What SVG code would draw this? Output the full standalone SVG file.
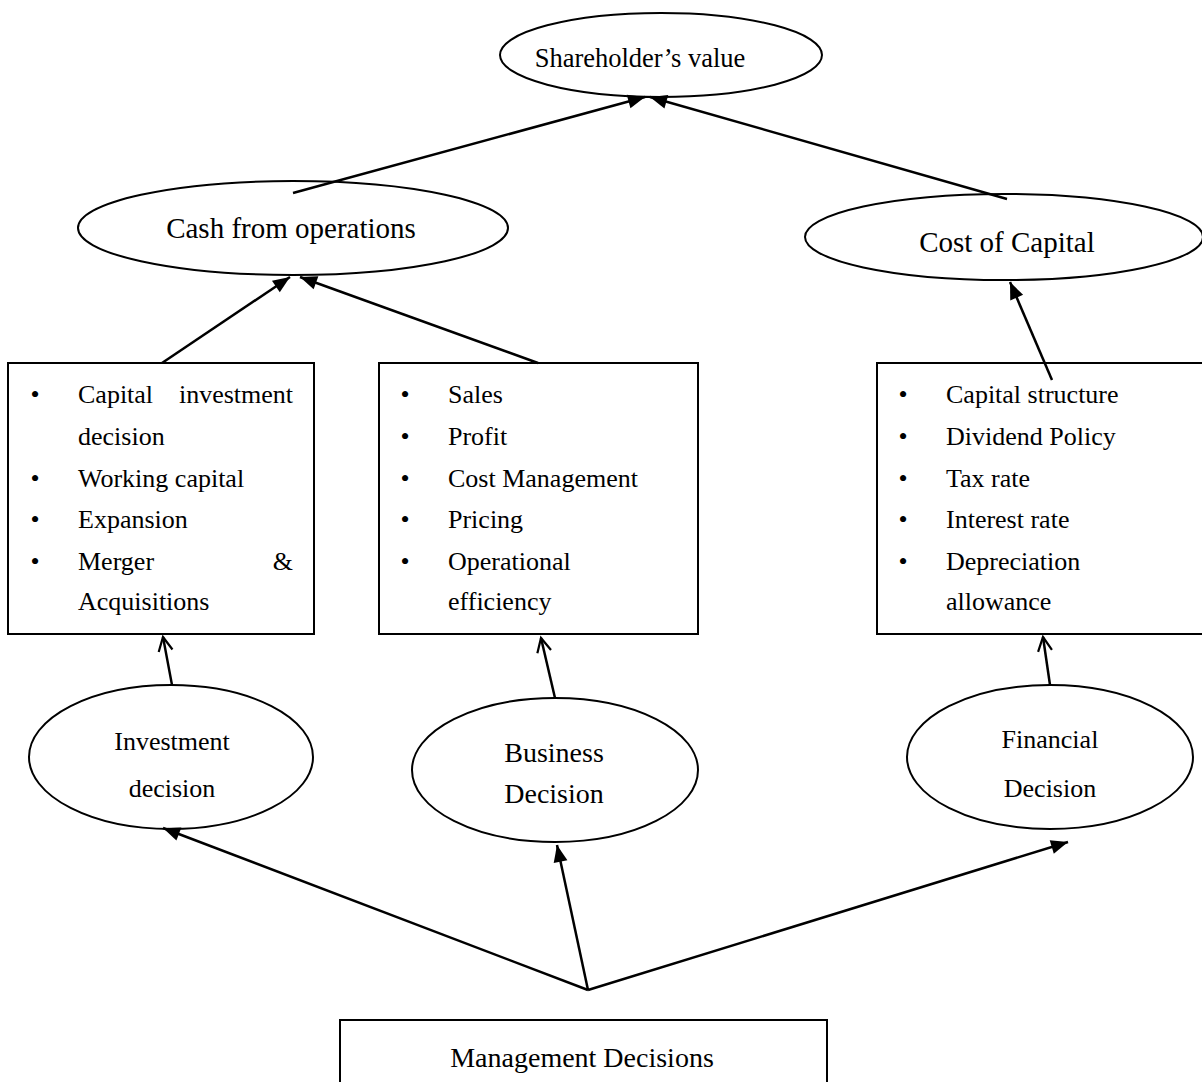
<svg xmlns="http://www.w3.org/2000/svg" width="1202" height="1082" viewBox="0 0 1202 1082">
<style>
  .shape { fill: #fff; stroke: #000; stroke-width: 2; }
  .conn { stroke: #000; stroke-width: 2.5; fill: none; }
  .t { font-family: "Liberation Serif", "Times New Roman", serif; fill: #000; }
  .c { text-anchor: middle; }
  .b { font-size: 26px; }
</style>
<defs>
  <marker id="filled" markerUnits="userSpaceOnUse" markerWidth="18" markerHeight="14" refX="17" refY="7" orient="auto" overflow="visible">
    <path d="M0,0 L17,7 L0,14 z" fill="#000"/>
  </marker>
  <marker id="open" markerUnits="userSpaceOnUse" markerWidth="16" markerHeight="16" refX="14" refY="7" orient="auto" overflow="visible">
    <path d="M0,0 L14,7 L0,14" fill="none" stroke="#000" stroke-width="2.2"/>
  </marker>
</defs>
<rect width="1202" height="1082" fill="#fff"/>

<g id="shareholders-value">
  <ellipse class="shape" cx="661" cy="55" rx="161" ry="42"/>
  <text class="t c" x="640" y="67" font-size="26.5">Shareholder’s value</text>
</g>

<g id="cash-from-operations">
  <ellipse class="shape" cx="293" cy="228" rx="215" ry="47"/>
  <text class="t c" x="291" y="238" font-size="29">Cash from operations</text>
</g>

<g id="cost-of-capital">
  <ellipse class="shape" cx="1004" cy="237" rx="199" ry="43"/>
  <text class="t c" x="1007" y="252" font-size="29">Cost of Capital</text>
</g>

<g id="investment-factors">
  <rect class="shape" x="8" y="363" width="306" height="271"/>
  <text class="t b c" x="35" y="403">•</text>
  <text class="t b" x="78" y="403">Capital</text>
  <text class="t b" x="293" y="403" text-anchor="end">investment</text>
  <text class="t b" x="78" y="445">decision</text>
  <text class="t b c" x="35" y="487">•</text>
  <text class="t b" x="78" y="487">Working capital</text>
  <text class="t b c" x="35" y="528">•</text>
  <text class="t b" x="78" y="528">Expansion</text>
  <text class="t b c" x="35" y="570">•</text>
  <text class="t b" x="78" y="570">Merger</text>
  <text class="t b" x="293" y="570" text-anchor="end">&amp;</text>
  <text class="t b" x="78" y="610">Acquisitions</text>
</g>

<g id="business-factors">
  <rect class="shape" x="379" y="363" width="319" height="271"/>
  <text class="t b c" x="405" y="403">•</text>
  <text class="t b" x="448" y="403">Sales</text>
  <text class="t b c" x="405" y="445">•</text>
  <text class="t b" x="448" y="445">Profit</text>
  <text class="t b c" x="405" y="487">•</text>
  <text class="t b" x="448" y="487">Cost Management</text>
  <text class="t b c" x="405" y="528">•</text>
  <text class="t b" x="448" y="528">Pricing</text>
  <text class="t b c" x="405" y="570">•</text>
  <text class="t b" x="448" y="570">Operational</text>
  <text class="t b" x="448" y="610">efficiency</text>
</g>

<g id="financial-factors">
  <rect class="shape" x="877" y="363" width="330" height="271"/>
  <text class="t b c" x="903" y="403">•</text>
  <text class="t b" x="946" y="403">Capital structure</text>
  <text class="t b c" x="903" y="445">•</text>
  <text class="t b" x="946" y="445">Dividend Policy</text>
  <text class="t b c" x="903" y="487">•</text>
  <text class="t b" x="946" y="487">Tax rate</text>
  <text class="t b c" x="903" y="528">•</text>
  <text class="t b" x="946" y="528">Interest rate</text>
  <text class="t b c" x="903" y="570">•</text>
  <text class="t b" x="946" y="570">Depreciation</text>
  <text class="t b" x="946" y="610">allowance</text>
</g>

<g id="investment-decision">
  <ellipse class="shape" cx="171" cy="757" rx="142" ry="72"/>
  <text class="t c" x="172" y="750" font-size="26">Investment</text>
  <text class="t c" x="172" y="797" font-size="26">decision</text>
</g>

<g id="business-decision">
  <ellipse class="shape" cx="555" cy="770" rx="143" ry="72"/>
  <text class="t c" x="554" y="762" font-size="28">Business</text>
  <text class="t c" x="554" y="803" font-size="28">Decision</text>
</g>

<g id="financial-decision">
  <ellipse class="shape" cx="1050" cy="757" rx="143" ry="72"/>
  <text class="t c" x="1050" y="748" font-size="26">Financial</text>
  <text class="t c" x="1050" y="797" font-size="26">Decision</text>
</g>

<g id="management-decisions">
  <rect class="shape" x="340" y="1020" width="487" height="80"/>
  <text class="t c" x="582" y="1067" font-size="28">Management Decisions</text>
</g>

<g id="connectors">
  <line class="conn" x1="293" y1="193" x2="645" y2="97" marker-end="url(#filled)"/>
  <line class="conn" x1="1007" y1="199" x2="650" y2="97" marker-end="url(#filled)"/>
  <line class="conn" x1="162" y1="363" x2="290" y2="277" marker-end="url(#filled)"/>
  <line class="conn" x1="538" y1="363" x2="300" y2="277" marker-end="url(#filled)"/>
  <line class="conn" x1="1052" y1="380" x2="1010" y2="282" marker-end="url(#filled)"/>
  <line class="conn" x1="172" y1="685" x2="163" y2="637" marker-end="url(#open)"/>
  <line class="conn" x1="555" y1="698" x2="541" y2="638" marker-end="url(#open)"/>
  <line class="conn" x1="1050" y1="685" x2="1043" y2="637" marker-end="url(#open)"/>
  <line class="conn" x1="588" y1="990" x2="163" y2="828" marker-end="url(#filled)"/>
  <line class="conn" x1="588" y1="990" x2="557" y2="845" marker-end="url(#filled)"/>
  <line class="conn" x1="588" y1="990" x2="1068" y2="842" marker-end="url(#filled)"/>
</g>
</svg>
